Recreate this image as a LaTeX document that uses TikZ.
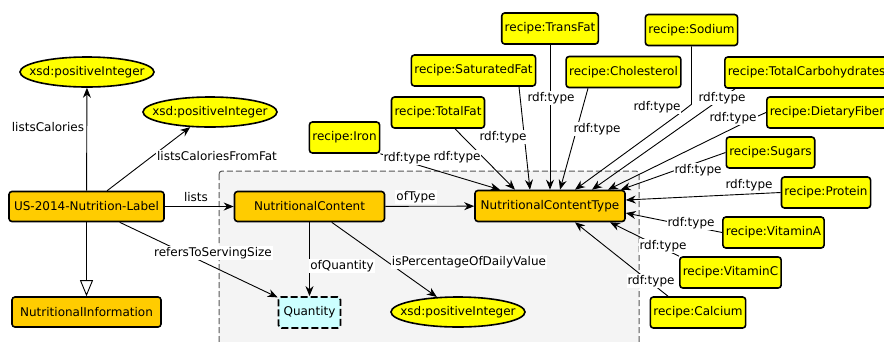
\documentclass[tikz,border=0pt]{standalone}
\usepackage{fontspec}
\setmainfont{DejaVu Sans}
\usetikzlibrary{arrows.meta,shapes.geometric,calc}

\definecolor{classfill}{HTML}{FFCC00}
\definecolor{instfill}{HTML}{FFFF00}
\definecolor{anonfill}{HTML}{CCFFFF}
\definecolor{groupfill}{HTML}{F4F4F4}
\definecolor{groupline}{HTML}{555555}

\begin{document}
\begin{tikzpicture}[x=1pt,y=-1pt,
  every node/.style={font=\fontsize{12}{14}\selectfont},
  cls/.style={draw, line width=1.6pt, rounded corners=3pt, fill=classfill,
    minimum height=30pt, inner xsep=3pt, inner ysep=0pt},
  inst/.style={cls, fill=instfill, minimum height=31pt},
  anon/.style={cls, fill=anonfill, dashed, dash pattern=on 7pt off 3pt,
    line width=1.8pt, minimum width=62pt, minimum height=31pt},
  lit/.style={draw, line width=1.6pt, ellipse, fill=instfill,
    minimum width=134pt, minimum height=30pt, inner sep=0pt},
  rel/.style={draw, line width=0.9pt, -{Stealth[length=10pt,width=8pt]}},
  sub/.style={draw, line width=0.9pt, -{Triangle[length=16pt,width=13pt,fill=white]}},
  lbl/.style={fill=white, inner sep=1pt},
]
\useasboundingbox (0,0) rectangle (884,341);

% grouping box around the content nodes
\draw[groupline, fill=groupfill, line width=1pt, dash pattern=on 6pt off 3pt,
  rounded corners=3pt] (219,171) rectangle (639,360);

% class and literal nodes
\node[lit] (xsdA) at (87,72) {\makebox[0pt]{xsd:positiveInteger}};
\node[lit] (xsdB) at (210,112) {\makebox[0pt]{xsd:positiveInteger}};
\node[lit] (xsdC) at (458,312) {\makebox[0pt]{xsd:positiveInteger}};
\node[cls, minimum width=155pt] (label) at (86.5,206.5) {US-2014-Nutrition-Label};
\node[cls, minimum width=149pt] (info) at (86.5,312) {NutritionalInformation};
\node[cls, minimum width=150pt] (content) at (309.5,206.5) {NutritionalContent};
\node[cls, minimum width=150pt, minimum height=31pt] (ctype) at (550,206) {NutritionalContentType};
\node[anon] (quantity) at (309.5,312.5) {Quantity};

% nutrient instances
\node[inst] (iron) at (344.5,137.5) {recipe:Iron};
\node[inst] (totalfat) at (438,112.5) {recipe:TotalFat};
\node[inst] (satfat) at (473.5,70.5) {recipe:SaturatedFat};
\node[inst] (transfat) at (550,28.5) {recipe:TransFat};
\node[inst] (cholesterol) at (623.5,72) {recipe:Cholesterol};
\node[inst] (sodium) at (691.5,30) {recipe:Sodium};
\node[inst, anchor=west] (carbs) at (724,72.5) {recipe:TotalCarbohydrates};
\node[inst, anchor=west] (fiber) at (766,112.5) {recipe:DietaryFiber};
\node[inst] (sugars) at (770.5,152.5) {recipe:Sugars};
\node[inst] (protein) at (826,192.5) {recipe:Protein};
\node[inst] (vitA) at (773.5,232.5) {recipe:VitaminA};
\node[inst] (vitC) at (730.5,272.5) {recipe:VitaminC};
\node[inst] (calcium) at (698,312.5) {recipe:Calcium};

% properties of the label
\draw[rel] (label) -- (xsdA);
\draw[rel] (label) -- (xsdB);
\draw[rel] (label) -- (content);
\draw[sub] (label) -- (info);
\draw[rel] (label) -- (quantity);
\draw[rel] (content) -- (ctype);
\draw[rel] (content) -- (quantity);
\draw[rel] (content) -- (xsdC);

% rdf:type links into NutritionalContentType
\draw[rel] (iron.south east) -- ($(ctype.north)+(-50,0)$);
\draw[rel] ($(totalfat.south)+(17,0)$) -- ($(ctype.north)+(-35,0)$);
\draw[rel] ($(satfat.south)+(45.5,0)$) -- ($(ctype.north)+(-20,0)$);
\draw[rel] (transfat) -- (ctype);
\draw[rel] ($(cholesterol.south)+(-35.5,0)$) -- ($(ctype.north)+(10,0)$);
\draw[rel] (sodium.south) -- ++(0,58) -- ++(-9,7) -- ($(ctype.north)+(25,0)$);
\draw[rel] ($(carbs.south west)+(11,0)$) -- ($(ctype.north)+(42,0)$);
\draw[rel] (fiber.west) -- ++(-9,4) -- ($(ctype.north)+(58,0)$);
\draw[rel] (sugars.west) -- ($(ctype.north east)+(-5,0)$);
\draw[rel] (protein.west) -- ($(ctype.east)+(0,-6)$);
\draw[rel] (vitA.west) -- ($(ctype.east)+(0,7)$);
\draw[rel] (vitC.north west) -- ($(ctype.south)+(60,0)$);
\draw[rel] ($(calcium.north)+(-30,0)$) -- ($(ctype.south)+(25,0)$);

% edge labels
\node[lbl] (lCal) at (48,127) {listsCalories};
\node[lbl] (lFat) at (217,156) {listsCaloriesFromFat};
\node[lbl] (lLists) at (196,197) {lists};
\node[lbl] (lServ) at (213,253) {refersToServingSize};
\node[lbl] (lType) at (416,197) {ofType};
\node[lbl] (lQty) at (342,266) {ofQuantity};
\node[lbl] (lPct) at (469,262) {isPercentageOfDailyValue};

\node[lbl] (tIron) at (407,158) {rdf:type};
\node[lbl] (tTotalFat) at (457,157) {rdf:type};
\node[lbl] (tSatFat) at (503,137) {rdf:type};
\node[lbl] (tTransFat) at (551,98) {rdf:type};
\node[lbl] (tChol) at (597,129) {rdf:type};
\node[lbl] (tSodium) at (657,107) {rdf:type};
\node[lbl] (tCarbs) at (722,98) {rdf:type};
\node[lbl] (tFiber) at (733,118) {rdf:type};
\node[lbl] (tSugars) at (698,170) {rdf:type};
\node[lbl] (tProtein) at (749,185) {rdf:type};
\node[lbl] (tVitA) at (691,223) {rdf:type};
\node[lbl] (tVitC) at (663,246) {rdf:type};
\node[lbl] (tCalcium) at (651,281) {rdf:type};
\end{tikzpicture}
\end{document}
